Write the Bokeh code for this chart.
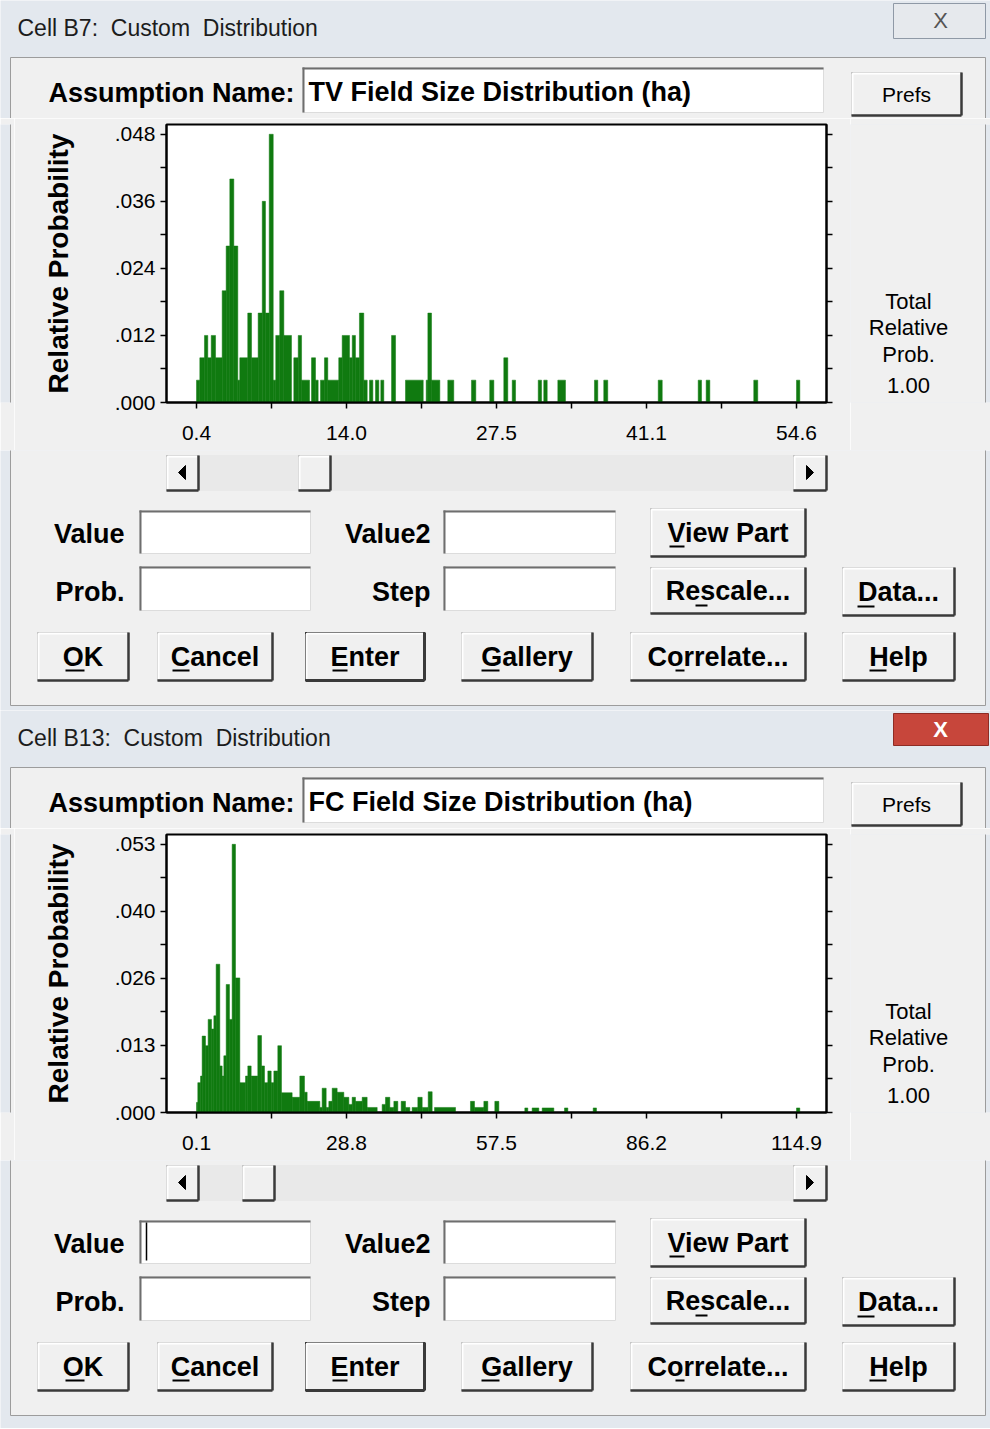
from bokeh.plotting import figure
from bokeh.models import Range1d, FixedTicker, LinearAxis, CustomJSTickFormatter
from bokeh.layouts import column, row
from bokeh.embed import file_html
from bokeh.resources import INLINE
from bokeh.core.properties import value

# ---------------- data : Cell B7, TV field size distribution (ha) ----------------
tv_left = [0.40, 0.70, 1.12, 1.42, 1.73, 2.12, 2.72, 3.08, 3.41, 3.77, 4.13, 4.31, 5.03, 5.37,
           5.97, 6.34, 6.63, 6.97, 7.33, 7.56, 7.92, 8.29, 9.19, 9.59, 9.89, 10.79, 11.15, 11.60,
           11.96, 12.26, 13.25, 13.56, 14.22, 14.47, 14.76, 15.12, 15.51, 16.03, 16.57, 17.05,
           18.02, 19.28, 21.15, 21.30, 21.63, 23.10, 25.24, 26.89, 28.16, 28.92, 31.27, 31.77,
           33.04, 36.35, 37.19, 42.11, 45.72, 46.44, 50.74, 54.60]
tv_right = [0.70, 1.12, 1.42, 1.73, 2.12, 2.72, 3.08, 3.41, 3.77, 4.13, 4.31, 5.03, 5.37, 5.97,
            6.34, 6.63, 6.97, 7.33, 7.56, 7.92, 8.29, 8.98, 9.59, 9.89, 10.61, 11.15, 11.39, 11.96,
            12.26, 13.25, 13.56, 14.22, 14.47, 14.76, 15.12, 15.51, 15.82, 16.33, 16.87, 17.32,
            18.38, 20.88, 21.30, 21.63, 22.38, 23.64, 25.63, 27.26, 28.52, 29.22, 31.57, 32.08,
            33.73, 36.65, 37.55, 42.47, 46.02, 46.77, 51.10, 54.90]
tv_prob = [0.004, 0.008, 0.012, 0.008, 0.012, 0.008, 0.020, 0.028, 0.040, 0.028, 0.004, 0.008,
           0.016, 0.008, 0.016, 0.036, 0.016, 0.048, 0.004, 0.012, 0.020, 0.012, 0.008, 0.012,
           0.004, 0.008, 0.004, 0.004, 0.008, 0.004, 0.008, 0.012, 0.008, 0.012, 0.008, 0.016,
           0.004, 0.004, 0.004, 0.004, 0.012, 0.004, 0.004, 0.016, 0.004, 0.004, 0.004, 0.004,
           0.008, 0.004, 0.004, 0.004, 0.004, 0.004, 0.004, 0.004, 0.004, 0.004, 0.004, 0.004]
tv_xticks = [0.4, 13.95, 27.5, 41.05, 54.6]
tv_xlabels = ["0.4", "14.0", "27.5", "41.1", "54.6"]
tv_yticks = [0.0, 0.012, 0.024, 0.036, 0.048]
tv_ylabels = [".000", ".012", ".024", ".036", ".048"]

# ---------------- data : Cell B13, FC field size distribution (ha) ----------------
fc_left = [0.10, 0.35, 0.87, 1.18, 1.82, 2.33, 2.97, 3.42, 3.86, 4.56, 5.01, 5.33, 5.78, 6.41,
           6.92, 7.56, 8.39, 9.48, 9.92, 10.56, 11.83, 12.54, 13.11, 13.75, 14.39, 14.90, 15.66,
           16.36, 18.40, 19.87, 20.76, 21.27, 23.70, 24.14, 24.91, 25.42, 26.06, 27.01, 28.29,
           29.25, 29.88, 30.52, 31.80, 32.75, 35.62, 36.26, 37.09, 37.86, 39.26, 40.09, 41.36,
           42.45, 43.28, 44.43, 45.64, 52.52, 53.29, 55.08, 57.18, 62.92, 64.32, 66.24, 70.51,
           76.00, 114.90]
fc_right = [0.35, 0.87, 1.18, 1.82, 2.33, 2.97, 3.42, 3.86, 4.56, 5.01, 5.33, 5.78, 6.41, 6.92,
            7.56, 8.39, 9.48, 9.92, 10.56, 11.83, 12.54, 13.11, 13.75, 14.39, 14.90, 15.66, 16.36,
            18.40, 19.87, 20.76, 21.27, 23.70, 24.14, 24.91, 25.42, 26.06, 27.01, 28.29, 29.25,
            29.88, 30.52, 31.80, 32.75, 34.67, 36.26, 37.09, 37.86, 38.62, 40.09, 40.92, 42.45,
            43.28, 44.43, 45.19, 49.66, 53.29, 55.08, 55.84, 57.95, 63.49, 65.60, 68.47, 71.15,
            76.63, 115.53]
fc_prob = [0.0020, 0.0059, 0.0072, 0.0151, 0.0132, 0.0184, 0.0165, 0.0191, 0.0293, 0.0092,
           0.0072, 0.0112, 0.0253, 0.0184, 0.0530, 0.0266, 0.0059, 0.0072, 0.0092, 0.0072,
           0.0152, 0.0092, 0.0059, 0.0082, 0.0059, 0.0082, 0.0132, 0.0039, 0.0030, 0.0072,
           0.0040, 0.0022, 0.0010, 0.0048, 0.0010, 0.0022, 0.0048, 0.0040, 0.0030, 0.0016,
           0.0030, 0.0022, 0.0030, 0.0010, 0.0016, 0.0030, 0.0010, 0.0022, 0.0022, 0.0010,
           0.0010, 0.0030, 0.0010, 0.0041, 0.0010, 0.0022, 0.0010, 0.0022, 0.0022, 0.0009,
           0.0009, 0.0009, 0.0009, 0.0009, 0.0009]
fc_xticks = [0.1, 28.8, 57.5, 86.2, 114.9]
fc_xlabels = ["0.1", "28.8", "57.5", "86.2", "114.9"]
fc_yticks = [0.0, 0.01325, 0.0265, 0.03975, 0.053]
fc_ylabels = [".000", ".013", ".026", ".040", ".053"]

# ---------------- styles ----------------
GREEN = "#107a10"
PANEL = "#f0f0f0"
FRAME = "#e3e8ee"
FONT = "Liberation Sans"


def mids(t):
    return [(a + b) / 2 for a, b in zip(t[:-1], t[1:])]


def style_axis(ax, ticks, labels, show=True):
    ax.ticker = FixedTicker(ticks=ticks, minor_ticks=mids(ticks))
    if show:
        ax.formatter = CustomJSTickFormatter(args=dict(labels=labels), code="return labels[index];")
        ax.major_label_text_font_size = "21px"
    else:
        ax.formatter = CustomJSTickFormatter(code="return '';")
        ax.major_label_text_font_size = "1px"
        ax.major_label_standoff = 0
    ax.axis_line_color = "black"
    ax.axis_line_width = 2
    ax.major_tick_in = 0
    ax.major_tick_out = 6
    ax.minor_tick_in = 0
    ax.minor_tick_out = 6
    ax.major_tick_line_color = "black"
    ax.minor_tick_line_color = "black"
    ax.major_tick_line_width = 1.5
    ax.minor_tick_line_width = 1.5
    ax.major_label_text_font = FONT
    ax.major_label_text_color = "black"


def hist_fig(left, right, prob, xr, yr, xt, xl, yt, yl):
    p = figure(width=836, height=332, x_range=Range1d(*xr), y_range=Range1d(*yr),
               toolbar_location=None, output_backend="svg",
               min_border_left=152, min_border_right=24, min_border_top=6, min_border_bottom=48)
    p.background_fill_color = "white"
    p.border_fill_color = PANEL
    p.outline_line_color = "black"
    p.outline_line_width = 2
    p.grid.visible = False
    p.quad(left=left, right=right, bottom=0, top=prob, fill_color=GREEN,
           line_color=GREEN, line_width=0.5)
    style_axis(p.xaxis[0], xt, xl)
    p.xaxis[0].major_label_standoff = 17
    style_axis(p.yaxis[0], yt, yl)
    p.yaxis[0].major_label_standoff = 5
    p.yaxis[0].axis_label = "Relative Probability"
    p.yaxis[0].axis_label_text_font = FONT
    p.yaxis[0].axis_label_text_font_style = "bold"
    p.yaxis[0].axis_label_text_font_size = "28px"
    p.yaxis[0].axis_label_text_color = "black"
    p.yaxis[0].axis_label_standoff = 38
    ra = LinearAxis()
    style_axis(ra, yt, yl, show=False)
    p.add_layout(ra, "right")
    return p


# ---------------- dialog chrome (screen-pixel layout) ----------------
Q = dict(l=[], r=[], t=[], b=[], fill=[], line=[])
S = dict(x0=[], y0=[], x1=[], y1=[], color=[], width=[])
T = dict(x=[], y=[], text=[], size=[], style=[], align=[], color=[])
P = dict(xs=[], ys=[])


def quad(l, r, t, b, fill, line=None):
    Q["l"].append(l); Q["r"].append(r); Q["t"].append(t); Q["b"].append(b)
    Q["fill"].append(fill); Q["line"].append(line if line else fill)


def seg(x0, y0, x1, y1, color, width):
    S["x0"].append(x0); S["y0"].append(y0); S["x1"].append(x1); S["y1"].append(y1)
    S["color"].append(color); S["width"].append(width)


def txt(x, y, s, size, style="normal", align="left", color="black"):
    T["x"].append(x); T["y"].append(y); T["text"].append(s); T["size"].append(size)
    T["style"].append(style); T["align"].append(align); T["color"].append(color)


def raised(l, r, t, b, default=False):
    quad(l, r, t, b, PANEL, "#000000" if default else "#b9b9b9")
    seg(l + 1, t + 1, r - 1, t + 1, "white", 2)
    seg(l + 1, t + 1, l + 1, b - 1, "white", 2)
    seg(l, b, r, b, "#3a3a3a", 3 if default else 2.5)
    seg(r, t, r, b, "#3a3a3a", 3 if default else 2.5)


def sunken(l, r, t, b):
    quad(l, r, t, b, "white", "#dcdcdc")
    seg(l, t + 1, r, t + 1, "#6e6e6e", 2)
    seg(l + 1, t, l + 1, b, "#6e6e6e", 2)


def button(l, r, t, b, label, ul, uy, default=False):
    raised(l, r, t, b, default)
    txt((l + r) / 2, (t + b) / 2, label, "27px", "bold", "center")
    seg(ul[0], uy, ul[1], uy, "black", 2)


dialogs = [
    dict(oy=0, title="Cell B7:\u00a0 Custom\u00a0 Distribution",
         name="TV Field Size Distribution (ha)", thumb=298, red=False, cursor=False),
    dict(oy=710, title="Cell B13:\u00a0 Custom\u00a0 Distribution",
         name="FC Field Size Distribution (ha)", thumb=242, red=True, cursor=True),
]

for d in dialogs:
    oy = d["oy"]
    quad(10, 985, 57 + oy, 705 + oy, PANEL, "#9c9c9c")
    if d["red"]:
        quad(893, 988, 713, 745, "#c7463b", "#8e2c24")
        txt(940, 729, "X", "22px", "bold", "center", "white")
    else:
        quad(893, 985, 3, 38, "#e6e9ed", "#8f99a6")
        txt(940, 20, "X", "22px", "normal", "center", "#555555")
    txt(17, 27 + oy, d["title"], "23px", "normal", "left", "#1c1c1c")
    txt(48, 92 + oy, "Assumption Name:", "27px", "bold", "left")
    sunken(302, 823, 67 + oy, 112 + oy)
    txt(308, 91 + oy, d["name"], "27px", "bold", "left")
    raised(851, 961, 72 + oy, 115 + oy)
    txt(906, 94 + oy, "Prefs", "21px", "normal", "center")
    # right side info
    txt(908, 301 + oy, "Total", "22px", "normal", "center")
    txt(908, 327 + oy, "Relative", "22px", "normal", "center")
    txt(908, 354 + oy, "Prob.", "22px", "normal", "center")
    txt(908, 385 + oy, "1.00", "22px", "normal", "center")
    # scroll bar
    quad(166, 826, 455 + oy, 490 + oy, "#e9e9e9")
    raised(166, 198, 455 + oy, 490 + oy)
    raised(793, 826, 455 + oy, 490 + oy)
    raised(d["thumb"], d["thumb"] + 32, 455 + oy, 490 + oy)
    P["xs"].append([185, 185, 178]); P["ys"].append([465 + oy, 479 + oy, 472 + oy])
    P["xs"].append([806, 806, 813]); P["ys"].append([465 + oy, 479 + oy, 472 + oy])
    # fields
    txt(124, 533 + oy, "Value", "27px", "bold", "right")
    txt(124, 591 + oy, "Prob.", "27px", "bold", "right")
    txt(430, 533 + oy, "Value2", "27px", "bold", "right")
    txt(430, 591 + oy, "Step", "27px", "bold", "right")
    sunken(139, 310, 510 + oy, 553 + oy)
    sunken(139, 310, 566 + oy, 610 + oy)
    sunken(443, 615, 510 + oy, 553 + oy)
    sunken(443, 615, 566 + oy, 610 + oy)
    if d["cursor"]:
        seg(146, 1222, 146, 1260, "black", 1.5)
    # buttons
    button(650, 805, 508 + oy, 556 + oy, "View Part", (669, 684), 546 + oy)
    button(650, 805, 567 + oy, 613 + oy, "Rescale...", (695, 707), 605 + oy)
    button(842, 954, 567 + oy, 615 + oy, "Data...", (857, 874), 606 + oy)
    button(37, 128, 632 + oy, 680 + oy, "OK", (65, 84), 670 + oy)
    button(157, 272, 632 + oy, 680 + oy, "Cancel", (172, 189), 670 + oy)
    button(305, 424, 632 + oy, 680 + oy, "Enter", (332, 347), 670 + oy, default=True)
    button(461, 592, 632 + oy, 680 + oy, "Gallery", (481, 499), 670 + oy)
    button(630, 805, 632 + oy, 680 + oy, "Correlate...", (675, 684), 670 + oy)
    button(842, 954, 632 + oy, 680 + oy, "Help", (869, 886), 670 + oy)


def chrome_fig(x0, y0, w, h, border=FRAME, mt=0, mb=0):
    """Figure whose frame shows the screen rectangle x0..x0+w, y0..y0+h."""
    p = figure(width=w, height=h + mt + mb, x_range=Range1d(x0, x0 + w),
               y_range=Range1d(y0 + h, y0),
               toolbar_location=None, output_backend="svg", min_border=0,
               min_border_top=mt, min_border_bottom=mb,
               x_axis_type=None, y_axis_type=None)
    p.background_fill_color = FRAME
    p.border_fill_color = border
    p.outline_line_color = None
    p.grid.visible = False
    p.quad(left=Q["l"], right=Q["r"], top=Q["t"], bottom=Q["b"],
           fill_color=Q["fill"], line_color=Q["line"], line_width=1)
    p.segment(x0=S["x0"], y0=S["y0"], x1=S["x1"], y1=S["y1"],
              line_color=S["color"], line_width=S["width"])
    p.patches(xs=P["xs"], ys=P["ys"], fill_color="black", line_color="black")
    keep = [i for i in range(len(T["x"]))
            if x0 <= T["x"][i] < x0 + w and y0 <= T["y"][i] < y0 + h]
    if keep:
        p.text(x=[T["x"][i] for i in keep], y=[T["y"][i] for i in keep],
               text=[T["text"][i] for i in keep],
               text_font_size=[T["size"][i] for i in keep],
               text_font_style=[T["style"][i] for i in keep],
               text_align=[T["align"][i] for i in keep],
               text_color=[T["color"][i] for i in keep],
               text_baseline="middle", text_font=value(FONT))
    return p


hist1 = hist_fig(tv_left, tv_right, tv_prob, (-2.31, 57.31), (0, 0.04975),
                 tv_xticks, tv_xlabels, tv_yticks, tv_ylabels)
hist2 = hist_fig(fc_left, fc_right, fc_prob, (-5.64, 120.64), (0, 0.05494),
                 fc_xticks, fc_xlabels, fc_yticks, fc_ylabels)

layout = column(
    chrome_fig(0, 0, 990, 118),
    row(chrome_fig(0, 124, 14, 278, PANEL, 6, 48), hist1,
        chrome_fig(850, 124, 140, 278, PANEL, 6, 48)),
    chrome_fig(0, 450, 990, 260),
    chrome_fig(0, 710, 990, 118),
    row(chrome_fig(0, 834, 14, 278, PANEL, 6, 48), hist2,
        chrome_fig(850, 834, 140, 278, PANEL, 6, 48)),
    chrome_fig(0, 1160, 990, 268),
)

open("out.html", "w").write(file_html(layout, INLINE, "Custom Distribution"))
